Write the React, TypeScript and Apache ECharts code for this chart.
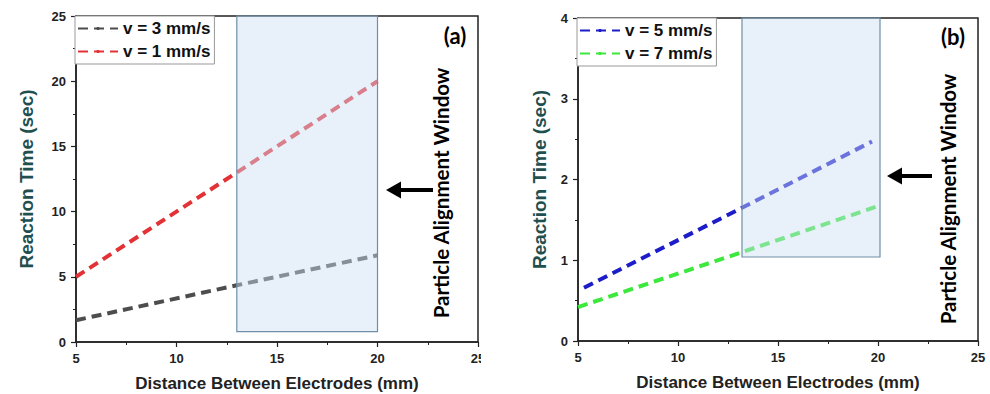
import React, { useEffect, useRef } from "react";
import * as echarts from "echarts";

// ---- data ----
const seriesNamesA = ["v = 3 mm/s", "v = 1 mm/s"];
const seriesNamesB = ["v = 5 mm/s", "v = 7 mm/s"];
const v3Data: [number, number][] = [[5, 1.67], [13, 4.35], [20, 6.65]];
const v1Data: [number, number][] = [[5, 5.0], [13, 13.0], [20, 20.0]];
const v5Data: [number, number][] = [[5.3, 0.66], [13.2, 1.65], [19.7, 2.47]];
const v7Data: [number, number][] = [[5, 0.42], [13.2, 1.1], [20, 1.67]];
const windowA = { x0: 13.0, x1: 20.0, y0: 0.8, y1: 25 };
const windowB = { x0: 13.2, x1: 20.1, y0: 1.04, y1: 4 };
const xTicks = { min: 5, max: 25, interval: 5 };
const yTicksA = { min: 0, max: 25, interval: 5 };
const yTicksB = { min: 0, max: 4, interval: 1 };
const annotationText = "Particle Alignment Window";
const xTitle = "Distance Between Electrodes (mm)";
const yTitle = "Reaction Time (sec)";

const FONT = "Liberation Sans";
const AXC = "#222";

function xAxisCfg(gridIndex: number) {
  return {
    type: "value",
    gridIndex,
    min: xTicks.min,
    max: xTicks.max,
    interval: xTicks.interval,
    name: xTitle,
    nameLocation: "middle",
    nameGap: 33,
    nameTextStyle: { fontFamily: FONT, fontWeight: "bold", fontSize: 17, color: "#222" },
    axisLine: { show: true, lineStyle: { color: AXC, width: 1.5 } },
    axisTick: { show: true, length: 5, lineStyle: { color: AXC, width: 1.2 } },
    minorTick: { show: true, splitNumber: 2, length: 3, lineStyle: { color: AXC, width: 1 } },
    axisLabel: { fontFamily: FONT, fontWeight: "bold", fontSize: 13, color: "#222", margin: 10 },
    splitLine: { show: false },
  };
}

function yAxisCfg(gridIndex: number, t: { min: number; max: number; interval: number }, gap: number) {
  return {
    type: "value",
    gridIndex,
    min: t.min,
    max: t.max,
    interval: t.interval,
    name: yTitle,
    nameLocation: "middle",
    nameGap: gap,
    nameTextStyle: { fontFamily: FONT, fontWeight: "bold", fontSize: 19, color: "#1f4f4f" },
    axisLine: { show: true, lineStyle: { color: AXC, width: 1.5 } },
    axisTick: { show: true, length: 5, lineStyle: { color: AXC, width: 1.2 } },
    minorTick: { show: true, splitNumber: 2, length: 3, lineStyle: { color: AXC, width: 1 } },
    axisLabel: { fontFamily: FONT, fontWeight: "bold", fontSize: 13, color: "#222", margin: 10 },
    splitLine: { show: false },
  };
}

function lineSeries(name: string, data: [number, number][], color: string, idx: number) {
  return {
    type: "line",
    name,
    xAxisIndex: idx,
    yAxisIndex: idx,
    data,
    symbol: "none",
    z: 2,
    color,
    lineStyle: { color, width: 4, type: [10, 6] },
  };
}

function windowSeries(w: { x0: number; x1: number; y0: number; y1: number }, idx: number) {
  return {
    type: "line",
    name: "window" + idx,
    xAxisIndex: idx,
    yAxisIndex: idx,
    data: [],
    z: 10,
    silent: true,
    markArea: {
      silent: true,
      z: 10,
      itemStyle: { color: "rgba(205,222,243,0.45)", borderColor: "#6f8fa8", borderWidth: 1.2 },
      data: [[{ coord: [w.x0, w.y0] }, { coord: [w.x1, w.y1] }]],
    },
  };
}

function legendCfg(names: string[], left: number, top: number) {
  return {
    data: names,
    orient: "vertical",
    left,
    top,
    z: 12,
    itemWidth: 40,
    itemHeight: 4,
    itemGap: 6,
    padding: [4, 4, 4, 2],
    borderColor: "#999",
    borderWidth: 1,
    backgroundColor: "#fff",
    textStyle: { fontFamily: FONT, fontWeight: "bold", fontSize: 17, color: "#111" },
  };
}

function arrow(tipX: number, y: number, endX: number) {
  return [
    { type: "polygon", z: 20, shape: { points: [[tipX, y], [tipX + 15, y - 8.5], [tipX + 15, y + 8.5]] }, style: { fill: "#000" } },
    { type: "rect", z: 20, shape: { x: tipX + 14, y: y - 2, width: endX - tipX - 14, height: 4 }, style: { fill: "#000" } },
  ];
}

function vText(x: number, y: number) {
  return {
    type: "text",
    z: 20,
    x,
    y,
    rotation: Math.PI / 2,
    style: {
      text: annotationText,
      font: "bold 20.5px Lato",
      fill: "#000",
      align: "center",
      verticalAlign: "middle",
    },
  };
}

function panelLabel(text: string, x: number, y: number) {
  return {
    type: "text",
    z: 20,
    x,
    y,
    style: { text, font: "bold 22px Lato", fill: "#000", align: "center", verticalAlign: "middle" },
  };
}

export default function App() {
  const ref = useRef<HTMLDivElement>(null);
  useEffect(() => {
    document.body.style.margin = "0";
    const chart = echarts.init(ref.current!, undefined, { renderer: "svg" });
    chart.setOption({
      animation: false,
      backgroundColor: "#fff",
      grid: [
        { left: 76, top: 16, width: 402, height: 326, show: true, borderColor: AXC, borderWidth: 1.5, backgroundColor: "transparent", outerBoundsMode: "none", containLabel: false },
        { left: 578, top: 18, width: 400, height: 323, show: true, borderColor: AXC, borderWidth: 1.5, backgroundColor: "transparent", outerBoundsMode: "none", containLabel: false },
      ],
      xAxis: [xAxisCfg(0), xAxisCfg(1)],
      yAxis: [yAxisCfg(0, yTicksA, 40), yAxisCfg(1, yTicksB, 29)],
      legend: [legendCfg(seriesNamesA, 75, 16), legendCfg(seriesNamesB, 577, 18)],
      series: [
        lineSeries(seriesNamesA[0], v3Data, "#4d4d4d", 0),
        lineSeries(seriesNamesA[1], v1Data, "#e23236", 0),
        windowSeries(windowA, 0),
        lineSeries(seriesNamesB[0], v5Data, "#1c1cc8", 1),
        lineSeries(seriesNamesB[1], v7Data, "#3be83b", 1),
        windowSeries(windowB, 1),
      ],
      graphic: [
        ...arrow(386, 190, 433),
        vText(441, 193),
        panelLabel("(a)", 455, 35),
        ...arrow(887, 176, 932),
        vText(948, 199),
        panelLabel("(b)", 953, 36),
        { type: "rect", z: 30, shape: { x: 481, y: 347, width: 60, height: 25 }, style: { fill: "#fff" } },
      ],
    });
    return () => chart.dispose();
  }, []);
  return <div ref={ref} style={{ width: 990, height: 394 }} />;
}
